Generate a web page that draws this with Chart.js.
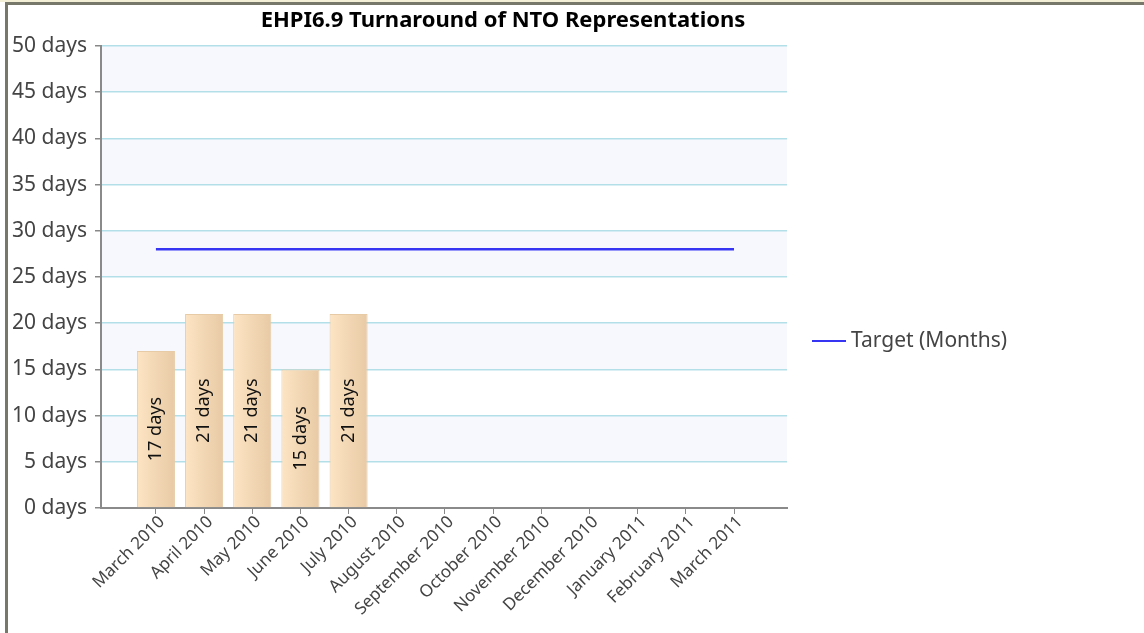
<!DOCTYPE html>
<html>
<head>
<meta charset="utf-8">
<title>EHPI6.9 Turnaround of NTO Representations</title>
<script src="https://cdn.jsdelivr.net/npm/chart.js@4.4.1/dist/chart.umd.min.js"></script>
<style>
  html, body { margin: 0; padding: 0; background: #fff; }
  #strip { position: absolute; left: 0; top: 0; width: 1144px; height: 2px; background: #f3efd6; }
  #frame {
    position: absolute; left: 5px; top: 2px; width: 1139px; height: 631px;
    border-left: 3px solid #77776a; border-top: 3px solid #77776a; box-sizing: border-box;
  }
  #wrap { position: absolute; left: 8px; top: 5px; width: 1136px; height: 628px; }
</style>
</head>
<body>
<div id="strip"></div>
<div id="frame"></div>
<div id="wrap"><canvas id="chart"></canvas></div>
<script>
const chartTitle = 'EHPI6.9 Turnaround of NTO Representations';
const months = ['March 2010', 'April 2010', 'May 2010', 'June 2010', 'July 2010', 'August 2010',
  'September 2010', 'October 2010', 'November 2010', 'December 2010', 'January 2011',
  'February 2011', 'March 2011'];
const daysTaken = [17, 21, 21, 15, 21, null, null, null, null, null, null, null, null];
const targetDays = [28, 28, 28, 28, 28, 28, 28, 28, 28, 28, 28, 28, 28];
const yTicks = [0, 5, 10, 15, 20, 25, 30, 35, 40, 45, 50];

const FONT = "'Noto Sans', 'DejaVu Sans', sans-serif";

// horizontal peach gradient across each bar
function barFill(ctx) {
  const meta = ctx.chart.getDatasetMeta(ctx.datasetIndex);
  const el = meta.data[ctx.dataIndex];
  if (!el || !el.width) return '#f5d9b5';
  const g = ctx.chart.ctx.createLinearGradient(el.x - el.width / 2, 0, el.x + el.width / 2, 0);
  g.addColorStop(0, '#fde4c3');
  g.addColorStop(1, '#e8caa5');
  return g;
}

// alternate shaded bands behind the grid
const bands = {
  id: 'bands',
  beforeDraw(chart) {
    const { ctx, chartArea: a, scales: { y } } = chart;
    ctx.save();
    ctx.fillStyle = '#f7f8fe';
    for (let i = 1; i < yTicks.length; i += 2) {
      const top = y.getPixelForValue(yTicks[i + 1] !== undefined ? yTicks[i + 1] : yTicks[i]);
      const bot = y.getPixelForValue(yTicks[i]);
      ctx.fillRect(a.left, top, a.right - a.left, bot - top);
    }
    ctx.restore();
  }
};

// title, value labels inside bars, legend entry
const extras = {
  id: 'extras',
  afterDatasetsDraw(chart) {
    const ctx = chart.ctx;
    const meta = chart.getDatasetMeta(0);
    ctx.save();
    ctx.fillStyle = '#111';
    ctx.font = '18px ' + FONT;
    ctx.textAlign = 'center';
    ctx.textBaseline = 'middle';
    meta.data.forEach((el, i) => {
      const v = daysTaken[i];
      if (v == null) return;
      ctx.save();
      ctx.translate(el.x, (el.y + el.base) / 2);
      ctx.rotate(-Math.PI / 2);
      ctx.fillText(v + ' days', 0, 0);
      ctx.restore();
    });
    ctx.restore();
  },
  afterDraw(chart) {
    const ctx = chart.ctx;
    const a = chart.chartArea;
    ctx.save();
    ctx.fillStyle = '#000';
    ctx.font = 'bold 22px ' + FONT;
    ctx.textAlign = 'center';
    ctx.textBaseline = 'middle';
    ctx.fillText(chartTitle, 495, 16);

    const ds = chart.data.datasets[1];
    const lx = a.right + 25, ly = 336;
    ctx.strokeStyle = ds.borderColor;
    ctx.lineWidth = 2;
    ctx.beginPath();
    ctx.moveTo(lx, ly);
    ctx.lineTo(lx + 34, ly);
    ctx.stroke();
    ctx.fillStyle = '#444';
    ctx.font = '21px ' + FONT;
    ctx.textAlign = 'left';
    ctx.fillText(ds.label, lx + 39, ly);
    ctx.restore();
  }
};

const chart = new Chart(document.getElementById('chart'), {
  type: 'bar',
  data: {
    datasets: [{
      type: 'bar',
      label: 'Turnaround (days)',
      data: daysTaken.map((v, i) => ({ x: i, y: v })),
      backgroundColor: barFill,
      borderColor: '#e6cba6',
      borderWidth: 1,
      categoryPercentage: 1,
      barPercentage: 0.79,
      order: 2
    }, {
      type: 'line',
      label: 'Target (Months)',
      data: targetDays.map((v, i) => ({ x: i, y: v })),
      borderColor: '#3636f2',
      borderWidth: 2.5,
      pointRadius: 0,
      fill: false,
      order: 1
    }]
  },
  options: {
    responsive: true,
    maintainAspectRatio: false,
    animation: false,
    layout: { padding: { top: 41, right: 357, left: 0, bottom: 0 } },
    plugins: {
      legend: { display: false },
      title: { display: false },
      tooltip: { enabled: false }
    },
    scales: {
      x: {
        type: 'linear',
        offset: false,
        min: -1.14,
        max: 13.1,
        afterFit: (scale) => { scale.height = 125; },
        afterBuildTicks: (scale) => { scale.ticks = months.map((m, i) => ({ value: i })); },
        grid: { offset: false, drawOnChartArea: false, drawTicks: true, tickLength: 6, tickColor: '#888' },
        border: { color: '#8a8a8a', width: 2 },
        ticks: {
          autoSkip: false,
          minRotation: 45,
          maxRotation: 45,
          padding: -2,
          labelOffset: 6,
          color: '#444',
          font: { family: FONT, size: 17 },
          callback: (v) => months[v]
        }
      },
      y: {
        min: 0,
        max: 50,
        afterFit: (scale) => { scale.width = 93; },
        afterBuildTicks: (scale) => { scale.ticks = yTicks.map(v => ({ value: v })); },
        grid: { color: '#b3dfe9', lineWidth: 1.5, drawTicks: true, tickLength: 6, tickColor: '#888' },
        border: { color: '#8a8a8a', width: 2 },
        ticks: {
          padding: 8,
          color: '#444',
          font: { family: FONT, size: 21 },
          callback: (v) => v + ' days'
        }
      }
    }
  },
  plugins: [bands, extras]
});
// second pass so the bar gradients use laid-out positions
chart.update();
</script>
</body>
</html>
